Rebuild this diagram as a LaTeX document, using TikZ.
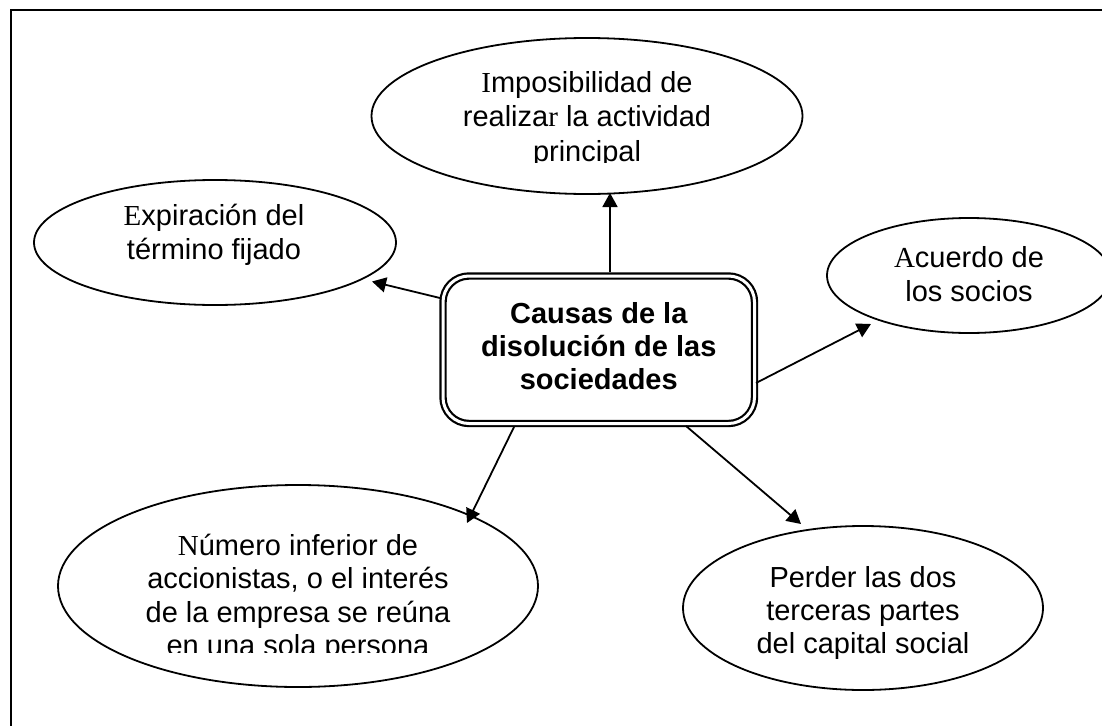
\documentclass[tikz,border=0pt]{standalone}
\usepackage{fontspec}
\setmainfont{Liberation Sans}
\newfontfamily\serifL{Liberation Serif}
\usetikzlibrary{shapes.geometric,arrows.meta}
\begin{document}
\begin{tikzpicture}[x=1pt,y=-1pt,
  oval/.style={draw, ellipse, line width=1.8pt, inner sep=0pt},
  txt/.style={align=center, inner sep=0pt, font=\fontsize{29}{34.5}\selectfont},
  hub/.style={draw, double, double distance=3pt, line width=2.2pt, rounded corners=26pt, inner sep=0pt, minimum width=311.5pt, minimum height=147.5pt},
  arr/.style={line width=1.8pt, -{Triangle[length=14pt,width=15pt]}},
]
\useasboundingbox (0,0) rectangle (1102,725);
\clip (0,0) rectangle (1102,725);
\fill[white] (0,0) rectangle (1102,725);
% frame (only top and left edges visible)
\draw[line width=2.2pt] (11,740) -- (11,10) -- (1120,10);

% central box
\node[hub] (hub) at (598.75,349.75) {};
\node[txt, font=\bfseries\fontsize{29}{33}\selectfont] (hubt) at (598.75,346) {Causas de la\\ disolución de las\\ sociedades};

% ellipses
\node[oval, minimum width=431pt, minimum height=156pt] (top) at (587,116) {};
\node[oval, minimum width=362pt, minimum height=125pt] (left) at (215,242.5) {};
\node[oval, minimum width=284pt, minimum height=115pt] (right) at (969,275.5) {};
\node[oval, minimum width=480pt, minimum height=202pt] (bl) at (298,586) {};
\node[oval, minimum width=360pt, minimum height=164pt] (br) at (863,608) {};

% texts
\begin{scope}
\clip (360,40) rectangle (820,162.5);
\node[txt] (topt) at (587,119.5) {{\serifL I}mposibilidad de\\ realiza{\serifL r} la actividad\\ principal};
\end{scope}
\node[txt] (leftt) at (214,235) {{\serifL E}xpiración del\\ término fijado};
\node[txt] (rightt) at (969,274) {{\serifL A}cuerdo de\\ los socios};
\begin{scope}
\clip (50,480) rectangle (540,652);
\node[txt, font=\fontsize{29}{33.5}\selectfont] (blt) at (298,598) {{\serifL N}úmero inferior de\\ accionistas, o el interés\\ de la empresa se reúna\\ en una sola persona};
\end{scope}
\node[txt, font=\fontsize{29}{33}\selectfont] (brt) at (863,612.5) {Perder las dos\\ terceras partes\\ del capital social};

% connectors
\draw[arr] ([shift={(11.25,-77.75)}]hub.center) -- ([shift={(23,77)}]top.center);
\draw[arr] ([shift={(-158.75,-51.75)}]hub.center) -- ([shift={(157,39)}]left.center);
\draw[arr] ([shift={(157.25,33.25)}]hub.center) -- ([shift={(-98,48.5)}]right.center);
\draw[arr] ([shift={(-84.75,77.25)}]hub.center) -- ([shift={(169,-63)}]bl.center);
\draw[arr] ([shift={(87.25,76.25)}]hub.center) -- ([shift={(-62,-84)}]br.center);
\end{tikzpicture}
\end{document}
